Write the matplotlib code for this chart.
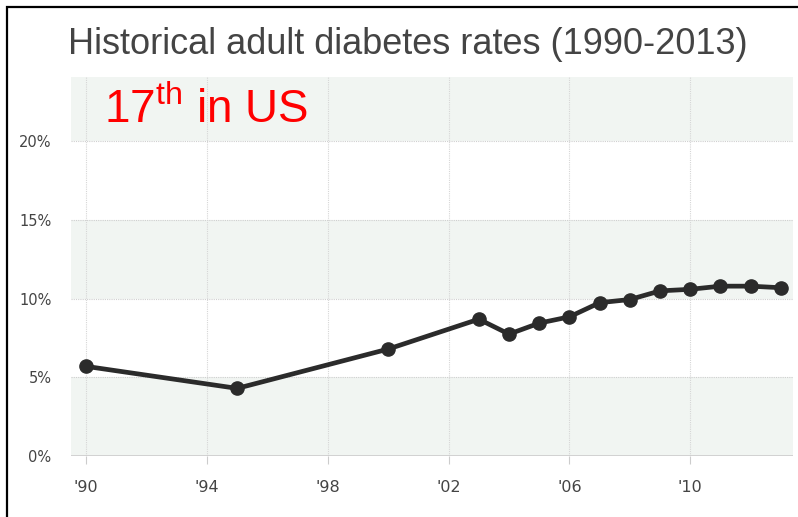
import matplotlib.pyplot as plt
from matplotlib.patches import Rectangle

# adult diabetes rate, percent
years = [1990, 1995, 2000, 2003, 2004, 2005, 2006, 2007, 2008, 2009, 2010, 2011, 2012, 2013]
rates = [5.7, 4.3, 6.8, 8.7, 7.75, 8.45, 8.85, 9.75, 9.95, 10.5, 10.6, 10.8, 10.8, 10.7]

xticks = [1990, 1994, 1998, 2002, 2006, 2010]
xlabels = ["'90", "'94", "'98", "'02", "'06", "'10"]
yticks = [0, 5, 10, 15, 20]
ylabels = ['0%', '5%', '10%', '15%', '20%']

fig = plt.figure(figsize=(7.98, 5.17), dpi=100)
ax = fig.add_axes([71 / 798, 1 - 456 / 517, 722 / 798, 379 / 517])

ymax = 24.1
ax.set_xlim(1989.5, 2013.4)
ax.set_ylim(0, ymax)

# alternating bands
band = '#f1f5f2'
for lo, hi in [(0, 5), (10, 15), (20, ymax)]:
    ax.axhspan(lo, hi, color=band, lw=0, zorder=0)

for y in yticks[1:]:
    ax.axhline(y, color='#cfcfcf', lw=0.8, ls=(0, (1, 1)), zorder=1)
for x in xticks:
    ax.axvline(x, color='#d6d6d6', lw=0.8, ls=(0, (1, 1)), zorder=1)
ax.axhline(0, color='#cccccc', lw=1.2, zorder=1)

ax.plot(years, rates, color='#2b2b2b', lw=3.4, marker='o', markersize=9.5,
        solid_capstyle='round', zorder=3)

ax.set_xticks(xticks)
ax.set_xticklabels(xlabels)
ax.set_yticks(yticks)
ax.set_yticklabels(ylabels)
for s in ax.spines.values():
    s.set_visible(False)
ax.tick_params(axis='x', length=6, width=0.8, color='#cccccc', pad=11,
               labelsize=11.5, labelcolor='#444444')
ax.tick_params(axis='y', length=0, pad=14, labelsize=10.5, labelcolor='#444444')

fig.text(408 / 798, 1 - 45 / 517, 'Historical adult diabetes rates (1990-2013)',
         ha='center', va='center', fontsize=26, color='#444444',
         family='Liberation Sans')
ax.text(1990.6, 22.0, r'17$^{\mathregular{th}}$ in US', ha='left', va='center',
        fontsize=33, color='#ff0000', family='Liberation Sans')

# black frame along the top and left edges
fig.patches.append(Rectangle((6.5 / 798, -0.1), 1.2, 1.1 - 6.5 / 517,
                             transform=fig.transFigure, fill=False,
                             edgecolor='black', lw=1.6))

fig.savefig('out.png', dpi=100)
